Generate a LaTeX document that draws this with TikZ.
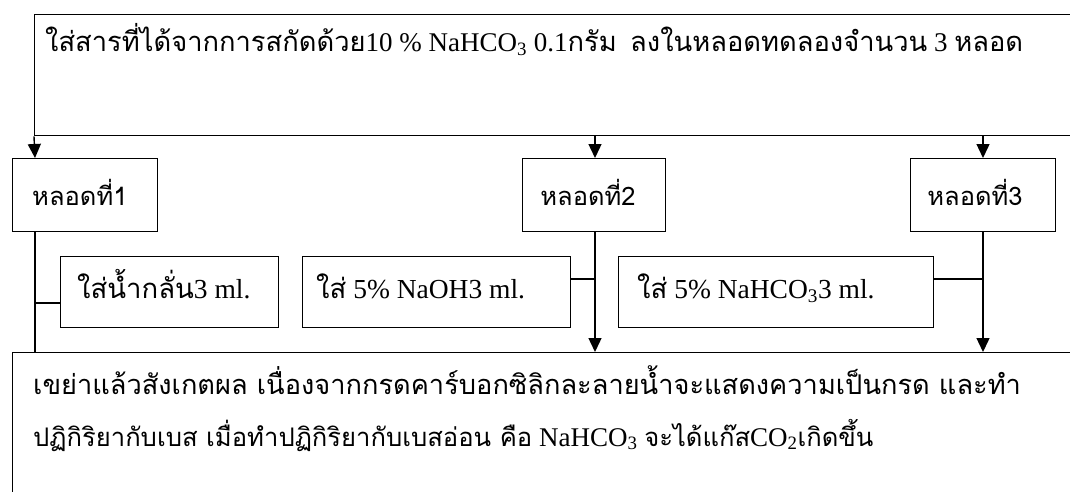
\documentclass[tikz,border=0pt]{standalone}
\usepackage{fontspec}
\setmainfont{Liberation Serif}
\newfontfamily\thfont[Script=Thai]{Loma}
\newcommand\thtxt[1]{{\thfont #1}}
\usetikzlibrary{arrows.meta}
\begin{document}
\begin{tikzpicture}[x=1pt,y=-1pt,
  every node/.style={inner sep=0pt},
  box/.style={draw, line width=1.4pt, anchor=north west},
  ln/.style={line width=1.4pt},
  arr/.style={line width=1.4pt,-{Triangle[length=14pt,width=13pt]}},
  toptxt/.style={anchor=base west, font=\fontsize{27pt}{30pt}\selectfont},
  lbl/.style={font=\fontsize{25.5pt}{30pt}\selectfont},
  midtxt/.style={anchor=base west, font=\fontsize{27.5pt}{30pt}\selectfont},
  bottxt/.style={anchor=base west, font=\fontsize{27pt}{30pt}\selectfont}]
\useasboundingbox (0,0) rectangle (1070,492);
\fill[white] (0,0) rectangle (1070,492);
% boxes
\node[box, minimum width=1056pt, minimum height=121pt] (top) at (34,14) {};
\node[box, minimum width=145pt, minimum height=73pt] (b1) at (12,158) {};
\node[box, minimum width=143pt, minimum height=73pt] (b2) at (522,158) {};
\node[box, minimum width=145pt, minimum height=73pt] (b3) at (910,158) {};
\node[box, minimum width=218pt, minimum height=71pt] (ma) at (60,256) {};
\node[box, minimum width=268pt, minimum height=71pt] (mb) at (302,256) {};
\node[box, minimum width=315pt, minimum height=71pt] (mc) at (618,256) {};
\node[box, minimum width=1080pt, minimum height=200pt] (bot) at (12,352) {};
% texts
\node[toptxt] (toptext) at (45,52) {{\fontsize{27.3pt}{30pt}\thfont ใส่สารที่ได้จากการสกัดด้วย}10 \% NaHCO\textsubscript{3} 0.1{\fontsize{27.3pt}{30pt}\thfont กรัม}\ \ {\fontsize{27.3pt}{30pt}\thfont ลงในหลอดทดลองจำนวน} 3 {\fontsize{27.3pt}{30pt}\thfont หลอด}};
\node[lbl, anchor=base west] (t1) at (32,205) {\thtxt{หลอดที่1}};
\node[lbl, anchor=base] (t2) at (588,205) {\thtxt{หลอดที่2}};
\node[lbl, anchor=base] (t3) at (975,205) {\thtxt{หลอดที่3}};
\node[midtxt] (ta) at (77,298) {\thtxt{ใส่น้ำกลั่น}3 ml.};
\node[midtxt] (tb) at (316,298) {\thtxt{ใส่} 5\% NaOH3 ml.};
\node[midtxt] (tc) at (637,298) {\thtxt{ใส่} 5\% NaHCO\textsubscript{3}3 ml.};
\node[bottxt] (l1) at (33,394) {{\fontsize{27.2pt}{30pt}\thfont เขย่าแล้วสังเกตผล เนื่องจากกรดคาร์บอกซิลิกละลายน้ำจะแสดงความเป็นกรด และทำ}};
\node[bottxt] (l2) at (33,446) {{\fontsize{25.6pt}{30pt}\thfont ปฏิกิริยากับเบส เมื่อทำปฏิกิริยากับเบสอ่อน คือ} NaHCO\textsubscript{3} {\fontsize{25.6pt}{30pt}\thfont จะได้แก๊ส}CO\textsubscript{2}{\fontsize{25.6pt}{30pt}\thfont เกิดขึ้น}};
% connector points
\coordinate (x1) at (35,0);
\coordinate (x2) at (595,0);
\coordinate (x3) at (983,0);
\coordinate (ty) at (0,303);
\coordinate (cy) at (0,279);
% arrows from top box
\draw[arr] (top.south west) -- (b1.north -| x1);
\draw[arr] (top.south -| x2) -- (b2.north -| x2);
\draw[arr] (top.south -| x3) -- (b3.north -| x3);
% down lines
\draw[ln] (b1.south -| x1) -- (bot.north -| x1);
\draw[arr] (b2.south -| x2) -- (bot.north -| x2);
\draw[arr] (b3.south -| x3) -- (bot.north -| x3);
% side connectors
\draw[ln] (x1 |- ty) -- (ma.west |- ty);
\draw[ln] (mb.east |- cy) -- (x2 |- cy);
\draw[ln] (mc.east |- cy) -- (x3 |- cy);
\end{tikzpicture}
\end{document}
